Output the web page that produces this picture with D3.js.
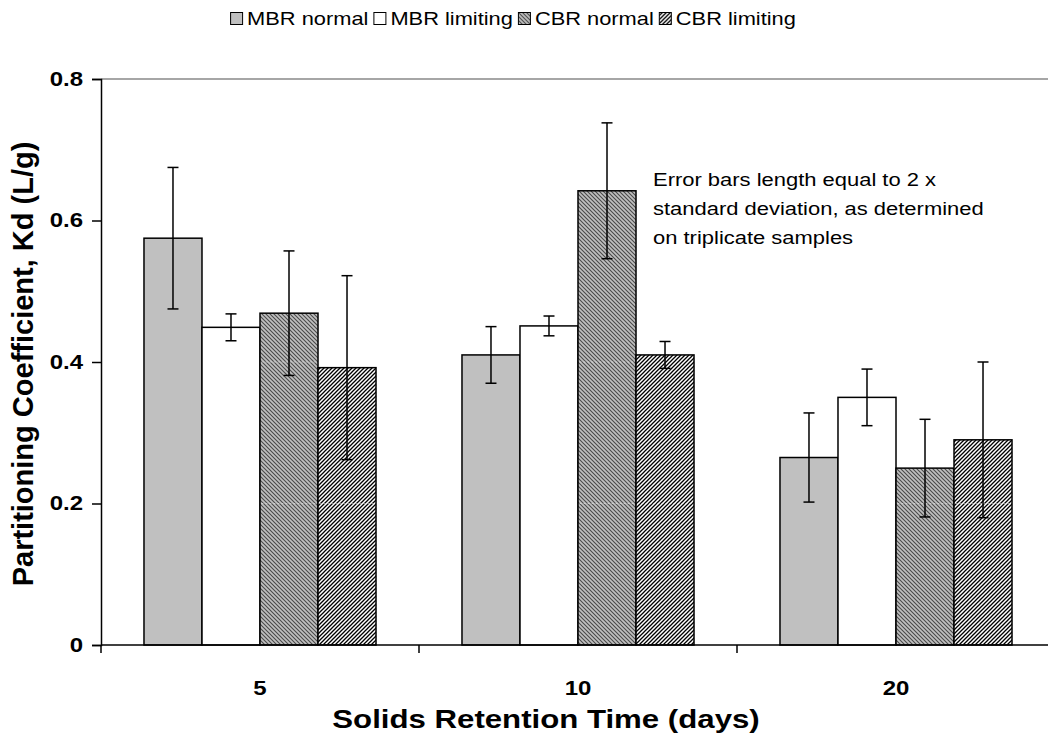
<!DOCTYPE html>
<html><head><meta charset="utf-8">
<script src="https://cdn.jsdelivr.net/npm/d3@7"></script>
<style>
body{margin:0;background:#fff}
svg{display:block}
text{font-family:"Liberation Sans",Arial,Helvetica,sans-serif;fill:#000}
</style>
</head><body>
<svg id="chart" width="1048" height="742"></svg>
<script>
// Partitioning coefficient by solids retention time, four reactor conditions
const categories = ["5", "10", "20"];
const seriesNames = ["MBR normal", "MBR limiting", "CBR normal", "CBR limiting"];
const mbrNormal = [0.575, 0.41, 0.265];
const mbrLimiting = [0.449, 0.451, 0.35];
const cbrNormal = [0.469, 0.642, 0.25];
const cbrLimiting = [0.392, 0.41, 0.29];
// half-length of each error bar (one standard deviation)
const mbrNormalErr = [0.1, 0.04, 0.063];
const mbrLimitingErr = [0.019, 0.014, 0.04];
const cbrNormalErr = [0.088, 0.096, 0.069];
const cbrLimitingErr = [0.13, 0.019, 0.11];
const yTicks = [0, 0.2, 0.4, 0.6, 0.8];
const noteLines = ["Error bars length equal to 2 x", "standard deviation, as determined", "on triplicate samples"];

const seriesValues = [mbrNormal, mbrLimiting, cbrNormal, cbrLimiting];
const seriesErrors = [mbrNormalErr, mbrLimitingErr, cbrNormalErr, cbrLimitingErr];
const fills = ["#c0c0c0", "#ffffff", "url(#hatchDown)", "url(#hatchUp)"];
const hatched = [false, false, true, true];

const svg = d3.select("#chart");
const plot = {left: 101, right: 1055, top: 79, bottom: 645};
const SX = 1.2; // horizontal stretch of the lettering

// hatch patterns
const defs = svg.append("defs");
const pd = defs.append("pattern").attr("id", "hatchDown")
  .attr("patternUnits", "userSpaceOnUse").attr("width", 4).attr("height", 4);
pd.append("rect").attr("width", 4).attr("height", 4).attr("fill", "#c0c0c0");
pd.append("path").attr("d", "M-1,-1L5,5M-1,3L1,5M3,-1L5,1")
  .attr("stroke", "#4a4a4a").attr("stroke-width", 1.1);
const pu = defs.append("pattern").attr("id", "hatchUp")
  .attr("patternUnits", "userSpaceOnUse").attr("width", 4).attr("height", 4);
pu.append("rect").attr("width", 4).attr("height", 4).attr("fill", "#ffffff");
pu.append("path").attr("d", "M-1,5L5,-1M-1,1L1,-1M3,5L5,3")
  .attr("stroke", "#000").attr("stroke-width", 1.3);

const x = d3.scaleBand().domain(categories).range([plot.left, plot.right]).padding(0);
const xs = d3.scaleBand().domain(seriesNames).range([0, x.bandwidth()])
  .paddingInner(0).paddingOuter(0.741);
const y = d3.scaleLinear().domain([0, 0.8]).range([plot.bottom, plot.top]);

// top border of plot area
svg.append("line")
  .attr("x1", plot.left).attr("x2", 1048)
  .attr("y1", y(0.8)).attr("y2", y(0.8))
  .attr("stroke", "#888").attr("stroke-width", 1.5);

// bars
const rows = [];
categories.forEach((c, i) => seriesNames.forEach((s, j) => {
  rows.push({c, s, j, v: seriesValues[j][i], e: seriesErrors[j][i]});
}));

svg.append("g").selectAll("rect").data(rows).join("rect")
  .attr("x", d => x(d.c) + xs(d.s))
  .attr("y", d => y(d.v))
  .attr("width", xs.bandwidth())
  .attr("height", d => y(0) - y(d.v))
  .attr("fill", d => fills[d.j])
  .attr("stroke", "#000").attr("stroke-width", 1.5);

// faint tile seams that show through the hatched fills at the 0.2 / 0.4 levels
const seams = svg.append("g").attr("stroke", "#fff").attr("stroke-opacity", 0.45)
  .attr("stroke-width", 1).attr("stroke-dasharray", "2,2");
rows.filter(d => hatched[d.j]).forEach(d => {
  [0.2, 0.4].filter(t => t < d.v - 0.01).forEach(t => {
    seams.append("line")
      .attr("x1", x(d.c) + xs(d.s) + 1.5).attr("x2", x(d.c) + xs(d.s) + xs.bandwidth() - 1.5)
      .attr("y1", y(t)).attr("y2", y(t));
  });
});

// error bars
const eb = svg.append("g").attr("stroke", "#000").attr("stroke-width", 1.5);
rows.forEach(d => {
  const cx = x(d.c) + xs(d.s) + xs.bandwidth() / 2;
  const y1 = y(d.v + d.e), y2 = y(d.v - d.e);
  eb.append("line").attr("x1", cx).attr("x2", cx).attr("y1", y1).attr("y2", y2);
  eb.append("line").attr("x1", cx - 5.5).attr("x2", cx + 5.5).attr("y1", y1).attr("y2", y1);
  eb.append("line").attr("x1", cx - 5.5).attr("x2", cx + 5.5).attr("y1", y2).attr("y2", y2);
});

// y axis
const yAxis = svg.append("g").attr("transform", `translate(${plot.left},0)`)
  .call(d3.axisLeft(y).tickValues(yTicks).tickSize(9).tickPadding(9)
    .tickFormat(d => d === 0 ? "0" : d3.format(".1f")(d)));
yAxis.select(".domain").attr("stroke", "#000").attr("stroke-width", 1.5);
yAxis.selectAll(".tick line").attr("stroke", "#000").attr("stroke-width", 1.5);
yAxis.selectAll(".tick text").attr("font-size", 20).attr("font-weight", "bold")
  .attr("font-family", "Liberation Sans, Arial, sans-serif")
  .attr("x", -18 / SX).attr("transform", `scale(${SX},1)`);

// x axis
const xAxis = svg.append("g").attr("transform", `translate(0,${plot.bottom})`);
xAxis.append("line").attr("x1", plot.left).attr("x2", 1048)
  .attr("stroke", "#000").attr("stroke-width", 1.5);
xAxis.selectAll("line.tk").data(categories).join("line").attr("class", "tk")
  .attr("x1", d => x(d)).attr("x2", d => x(d)).attr("y1", 0).attr("y2", 8)
  .attr("stroke", "#000").attr("stroke-width", 1.5);
xAxis.selectAll("text").data(categories).join("text")
  .attr("transform", d => `translate(${x(d) + x.bandwidth() / 2},50) scale(${SX},1)`)
  .attr("text-anchor", "middle").attr("font-size", 20).attr("font-weight", "bold")
  .text(d => d);

// axis titles
svg.append("text").attr("transform", `translate(546,728) scale(${SX},1)`)
  .attr("text-anchor", "middle")
  .attr("font-size", 26).attr("font-weight", "bold").text("Solids Retention Time (days)");
svg.append("text").attr("transform", "translate(33,364) rotate(-90)")
  .attr("text-anchor", "middle").attr("font-size", 29).attr("font-weight", "bold")
  .text("Partitioning Coefficient, Kd (L/g)");

// note
svg.append("g").selectAll("text").data(noteLines).join("text")
  .attr("transform", (d, i) => `translate(653,${186 + i * 29}) scale(${SX},1)`)
  .attr("font-size", 18.3).text(d => d);

// legend
const lg = svg.append("g");
let lx = 0;
seriesNames.forEach((s, j) => {
  const item = lg.append("g").attr("transform", `translate(${lx},0)`);
  item.append("rect").attr("x", 0.5).attr("y", 12.5).attr("width", 12).attr("height", 12)
    .attr("fill", fills[j]).attr("stroke", "#000").attr("stroke-width", 1);
  const t = item.append("text").attr("transform", `translate(17,25) scale(${SX},1)`)
    .attr("font-size", 18.2).text(s);
  lx += 17 + t.node().getComputedTextLength() * SX + 5;
});
lg.attr("transform", `translate(${513 - (lx - 5) / 2},0)`);
</script>
</body></html>
